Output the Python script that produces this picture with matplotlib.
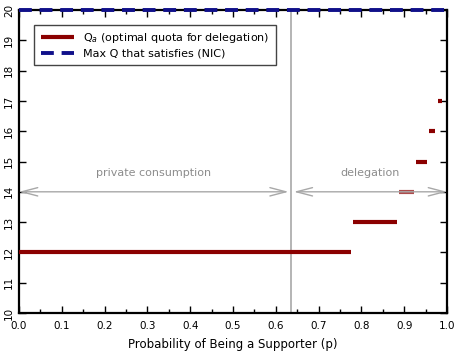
import matplotlib
matplotlib.use("Agg")
import matplotlib.pyplot as plt
from matplotlib.patches import FancyArrowPatch
from matplotlib.ticker import MultipleLocator, FormatStrFormatter

# Optimal quota Q_a as step segments over p
seg_start = [0.0, 0.780, 0.888, 0.928, 0.958, 0.979]
seg_end = [0.775, 0.883, 0.923, 0.953, 0.972, 0.988]
seg_q = [12, 13, 14, 15, 16, 17]

# Max Q that satisfies NIC
nic_p = [0.0, 1.0]
nic_q = [20, 20]

p_cut = 0.635          # boundary between the two regimes
arrow_q = 14
regions = ["private consumption", "delegation"]

RED = "#8b0000"
BLUE = "#10108a"
GRAY = "#a8a8a8"

plt.rcParams['font.family'] = ['DejaVu Sans']
fig = plt.figure(figsize=(4.58, 3.56), dpi=100)
ax = fig.add_axes([19 / 458, 43 / 356, 428 / 458, 303 / 356])

for i, (a, b, q) in enumerate(zip(seg_start, seg_end, seg_q)):
    ax.plot([a, b], [q, q], color=RED, lw=3.0, solid_capstyle="butt",
            alpha=0.7 if q == arrow_q else 1.0, zorder=3,
            label=r"Q$_a$ (optimal quota for delegation)" if i == 0 else None)

ax.plot(nic_p, nic_q, color=BLUE, lw=2.8, dashes=(3.3, 2.0), zorder=5,
        clip_on=False, label="Max Q that satisfies (NIC)")

ax.axvline(p_cut, color=GRAY, lw=1.2, zorder=2)

for x0, x1, txt in [(0.0, p_cut - 0.005, regions[0]), (p_cut + 0.007, 1.0, regions[1])]:
    arr = FancyArrowPatch((x0, arrow_q), (x1, arrow_q),
                          arrowstyle="<->,head_length=1.15,head_width=0.3",
                          mutation_scale=10, color=GRAY, lw=1.0,
                          shrinkA=0, shrinkB=0, zorder=4)
    ax.add_patch(arr)
    ax.text((x0 + x1) / 2, arrow_q + 0.62, txt, ha="center", va="center",
            color="#8c8c8c", fontsize=8)

ax.set_xlim(0, 1)
ax.set_ylim(10, 20)
ax.xaxis.set_major_locator(MultipleLocator(0.1))
ax.xaxis.set_minor_locator(MultipleLocator(0.05))
ax.xaxis.set_major_formatter(FormatStrFormatter("%.1f"))
ax.yaxis.set_major_locator(MultipleLocator(1))
ax.tick_params(axis="both", which="both", direction="in", top=True, right=True,
               labelsize=7.5, width=1.0)
ax.tick_params(which="major", length=5)
ax.tick_params(which="minor", length=3)
ax.tick_params(axis="x", pad=6)
for lab in ax.get_yticklabels():
    lab.set_rotation(90)
    lab.set_va("center")
ax.get_xticklabels()[0].set_ha("left")
for s in ax.spines.values():
    s.set_linewidth(1.6)

ax.set_xlabel("Probability of Being a Supporter (p)", fontsize=8.5, labelpad=5)

leg = ax.legend(loc="upper left", bbox_to_anchor=(0.022, 0.97), fontsize=8,
                fancybox=False, framealpha=1, edgecolor="#444444",
                handlelength=3.0, borderpad=0.6, labelspacing=0.3)
leg.get_frame().set_linewidth(1.0)

fig.savefig("out.png", dpi=100)
